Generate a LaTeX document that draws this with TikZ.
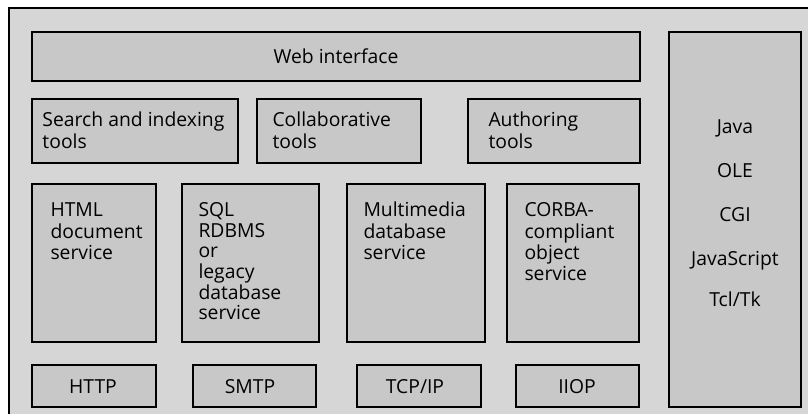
\documentclass[tikz,border=0pt]{standalone}
\usepackage{fontspec}
\setmainfont{Open Sans}
\definecolor{bgGray}{RGB}{214,214,214}
\definecolor{boxGray}{RGB}{200,200,200}
\tikzset{every picture/.style={line width=0.75pt}}
\tikzset{
  layerbox/.style={draw=black, fill=boxGray, line width=1.1pt},
  lbl/.style={inner sep=0pt, align=left, anchor=north west, font=\fontsize{14.5}{15.5}\selectfont},
  clbl/.style={inner sep=0pt, anchor=base, font=\fontsize{14.5}{15.5}\selectfont}
}

\begin{document}
\begin{tikzpicture}[x=0.75pt,y=0.75pt,yscale=-1,xscale=1]
\useasboundingbox (0,0) rectangle (808,414);

%Shape: Frame
\fill [bgGray] (9,8) rectangle (808,414);
\draw [line width=0.9pt] (9,414) -- (9,8) -- (808,8);

%Shape: Rectangle [web interface]
\draw [layerbox] (32,32) rectangle (640,81);
%Shape: Rectangle [tools]
\draw [layerbox] (32,99) rectangle (238,163);
\draw [layerbox] (257,99) rectangle (421,163);
\draw [layerbox] (468,99) rectangle (640,163);
%Shape: Rectangle [services]
\draw [layerbox] (32,184) rectangle (156,342);
\draw [layerbox] (182,184) rectangle (319,342);
\draw [layerbox] (347,184) rectangle (485,342);
\draw [layerbox] (507,184) rectangle (639,342);
%Shape: Rectangle [protocols]
\draw [layerbox] (32,365) rectangle (156,407);
\draw [layerbox] (193,365) rectangle (316,407);
\draw [layerbox] (357,365) rectangle (481,407);
\draw [layerbox] (516,365) rectangle (639,407);
%Shape: Rectangle [languages]
\draw [layerbox] (669,32) rectangle (801,407);

% Text Node
\draw (336,63) node [clbl] (web) {Web interface};
% Text Node
\draw (42,111.5) node [lbl] (search) {\strut Search and indexing\\tools};
% Text Node
\draw (272,111.5) node [lbl] (collab) {\strut Collaborative\\tools};
% Text Node
\draw (488,111.5) node [lbl] (author) {\strut Authoring\\tools};
% Text Node
\draw (50,201.5) node [lbl] (html) {\strut HTML\\document\\service};
% Text Node
\draw (198,201.5) node [lbl] (sql) {\strut SQL\\RDBMS\\or\\legacy\\database\\service};
% Text Node
\draw (363,201.5) node [lbl] (mmdb) {\strut Multimedia\\database\\service};
% Text Node
\draw (524,201.5) node [lbl] (corba) {\strut CORBA-\\compliant\\object\\service};
% Text Node
\draw (93,393) node [clbl] (http) {HTTP};
% Text Node
\draw (250,393) node [clbl] (smtp) {SMTP};
% Text Node
\draw (415,393) node [clbl] (tcpip) {TCP/IP};
% Text Node
\draw (577,393) node [clbl] (iiop) {IIOP};
% Text Node
\draw (735,133) node [clbl] (java) {Java};
% Text Node
\draw (735,177) node [clbl] (ole) {OLE};
% Text Node
\draw (735,221) node [clbl] (cgi) {CGI};
% Text Node
\draw (735,265) node [clbl] (js) {JavaScript};
% Text Node
\draw (735,306) node [clbl] (tcl) {Tcl/Tk};

\end{tikzpicture}
\end{document}
